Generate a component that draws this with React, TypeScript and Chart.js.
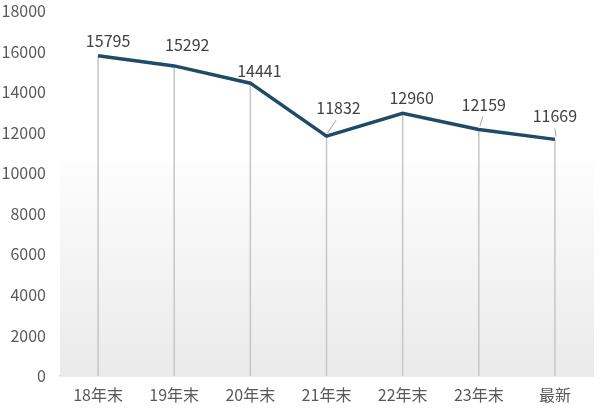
import React, { useEffect, useRef } from "react";
import { Chart, registerables } from "chart.js";

Chart.register(...registerables);

const categories = ["18年末", "19年末", "20年末", "21年末", "22年末", "23年末", "最新"];
const values = [15795, 15292, 14441, 11832, 12960, 12159, 11669];
const yTicks = [0, 2000, 4000, 6000, 8000, 10000, 12000, 14000, 16000, 18000];

// label placement relative to each point (pixels): dx, dy, leader line?
const labelOffsets: [number, number, boolean][] = [
  [10, -15, false],
  [13, -21, false],
  [9, -12, false],
  [12, -28, true],
  [9, -15, false],
  [5, -25, true],
  [0, -23, true],
];

const FONT = "'Noto Sans CJK SC', 'Noto Sans', sans-serif";

export default function App() {
  const ref = useRef<HTMLCanvasElement>(null);
  useEffect(() => {
    document.body.style.margin = "0";
    const bgPlugin = {
      id: "bg",
      beforeDatasetsDraw(chart: any) {
        const { ctx, chartArea, scales } = chart;
        const top = scales.y.getPixelForValue(10600);
        const bottom = chartArea.bottom;
        const g = ctx.createLinearGradient(0, top, 0, bottom);
        g.addColorStop(0, "#fdfdfd");
        g.addColorStop(1, "#eaeaea");
        ctx.save();
        ctx.fillStyle = g;
        ctx.fillRect(chartArea.left, top, chartArea.right - chartArea.left + 1, bottom - top);
        const meta = chart.getDatasetMeta(0);
        ctx.strokeStyle = "#c6c6c6";
        ctx.lineWidth = 1.5;
        meta.data.forEach((p: any) => {
          ctx.beginPath();
          ctx.moveTo(p.x, p.y);
          ctx.lineTo(p.x, bottom);
          ctx.stroke();
        });
        ctx.restore();
      },
      afterDatasetsDraw(chart: any) {
        const { ctx } = chart;
        const meta = chart.getDatasetMeta(0);
        ctx.save();
        ctx.font = `16px ${FONT}`;
        ctx.fillStyle = "#404040";
        ctx.textAlign = "center";
        ctx.textBaseline = "middle";
        meta.data.forEach((p: any, i: number) => {
          const [dx, dy, leader] = labelOffsets[i];
          const lx = p.x + dx;
          const ly = p.y + dy;
          ctx.fillText(String(values[i]), lx, ly);
          if (leader) {
            ctx.strokeStyle = "#a6a6a6";
            ctx.lineWidth = 1;
            ctx.beginPath();
            ctx.moveTo(p.x + 1, p.y - 3);
            ctx.lineTo(p.x + dx * 0.8, ly + 12);
            ctx.stroke();
          }
        });
        ctx.restore();
      },
    };
    const chart = new Chart(ref.current!, {
      type: "line",
      data: {
        labels: categories,
        datasets: [
          {
            data: values,
            borderColor: "#1f4a68",
            borderWidth: 3.5,
            pointRadius: 0,
            tension: 0,
            fill: false,
          },
        ],
      },
      options: {
        responsive: false,
        animation: false,
        devicePixelRatio: 1,
        layout: { padding: { top: 11, right: 7, left: 0, bottom: 0 } },
        plugins: { legend: { display: false }, tooltip: { enabled: false } },
        scales: {
          x: {
            offset: true,
            grid: { display: false },
            border: { display: true, color: "#d9d9d9", width: 1.5 },
            ticks: { color: "#595959", font: { family: FONT, size: 16 }, padding: 1 },
            afterFit(axis: any) {
              axis.height = 35;
              axis.paddingLeft = 0;
              axis.paddingRight = 0;
            },
          },
          y: {
            min: 0,
            max: 18000,
            afterBuildTicks(axis: any) {
              axis.ticks = yTicks.map((v) => ({ value: v }));
            },
            afterFit(axis: any) {
              axis.width = 60;
              axis.paddingTop = 0;
              axis.paddingBottom = 0;
            },
            grid: { display: false },
            border: { display: false },
            ticks: {
              color: "#595959",
              font: { family: FONT, size: 16 },
              padding: 6,
              callback: (v: any) => String(v),
            },
          },
        },
      },
      plugins: [bgPlugin],
    });
    return () => chart.destroy();
  }, []);
  return <canvas ref={ref} width={600} height={411} style={{ display: "block" }} />;
}
